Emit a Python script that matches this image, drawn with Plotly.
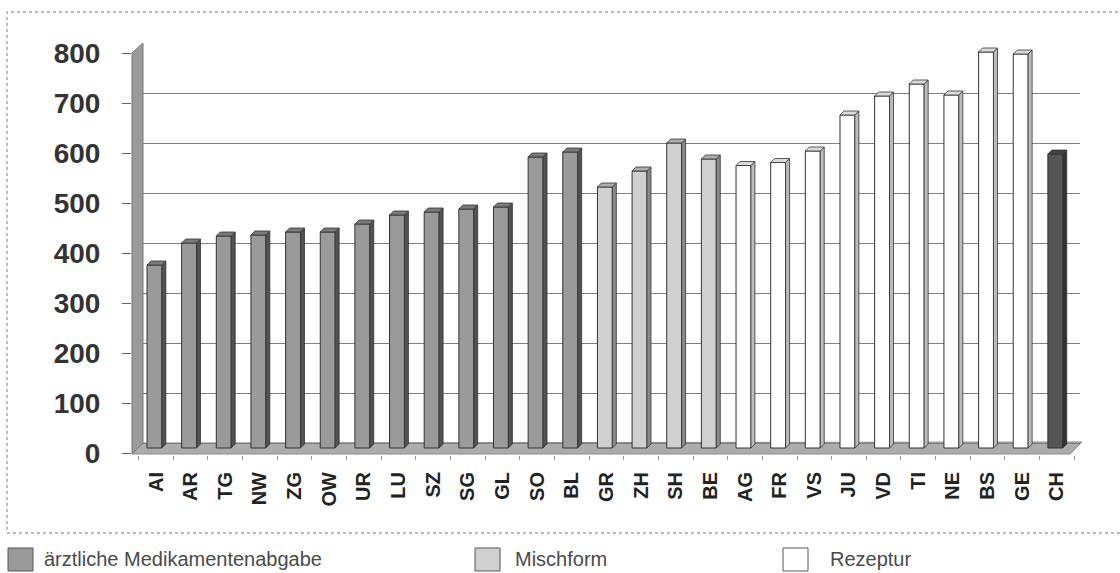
import plotly.graph_objects as go

# Costs per canton, grouped by dispensing system
sd_cantons = ["AI", "AR", "TG", "NW", "ZG", "OW", "UR", "LU", "SZ", "SG", "GL", "SO", "BL"]
sd_values = [366, 410, 424, 426, 432, 432, 448, 466, 472, 478, 482, 582, 592]
mix_cantons = ["GR", "ZH", "SH", "BE"]
mix_values = [522, 554, 610, 578]
rx_cantons = ["AG", "FR", "VS", "JU", "VD", "TI", "NE", "BS", "GE"]
rx_values = [565, 571, 594, 666, 704, 728, 706, 792, 788]
ch_cantons = ["CH"]
ch_values = [588]

y_ticks = [0, 100, 200, 300, 400, 500, 600, 700, 800]
legend_labels = ["ärztliche Medikamentenabgabe", "Mischform", "Rezeptur"]

# page geometry
W, H = 1120, 573
ML, MR, MT, MB = 132, 40, 43, 118
PW, PH = W - ML - MR, H - MT - MB

def px(x):
    return (x - ML) / PW

def py(y):
    return (H - MB - y) / PH

FONT = "Arial, Liberation Sans, sans-serif"

# pseudo-3D bar geometry (x in category units, depth rise in value units)
FRONT_OFF, FRONT_W = -0.26, 0.43
DX, DY = 0.115, 8

series = [
    (sd_cantons, sd_values, "#9a9a9a", "#525252", "#7a7a7a"),
    (mix_cantons, mix_values, "#d0d0d0", "#8a8a8a", "#adadad"),
    (rx_cantons, rx_values, "#ffffff", "#bbbbbb", "#dadada"),
    (ch_cantons, ch_values, "#555555", "#303030", "#444444"),
]

all_cantons = sd_cantons + mix_cantons + rx_cantons + ch_cantons

fig = go.Figure()
start = 0
for cantons, values, c_front, c_side, c_top in series:
    idx = list(range(start, start + len(cantons)))
    start += len(cantons)
    fig.add_trace(go.Bar(
        x=idx, y=values, width=FRONT_W, offset=FRONT_OFF,
        marker=dict(color=c_front, line=dict(color="#333333", width=1)),
        showlegend=False, hoverinfo="skip",
    ))
    sx, sy, tx, ty = [], [], [], []
    for i, v in zip(idx, values):
        r = i + FRONT_OFF + FRONT_W
        l = i + FRONT_OFF
        sx += [r, r + DX, r + DX, r, r, None]
        sy += [0, DY, v + DY, v, 0, None]
        tx += [l, r, r + DX, l + DX, l, None]
        ty += [v, v, v + DY, v + DY, v, None]
    fig.add_trace(go.Scatter(
        x=sx, y=sy, mode="lines", fill="toself", fillcolor=c_side,
        line=dict(color="#333333", width=0.8), showlegend=False, hoverinfo="skip",
    ))
    fig.add_trace(go.Scatter(
        x=tx, y=ty, mode="lines", fill="toself", fillcolor=c_top,
        line=dict(color="#333333", width=0.8), showlegend=False, hoverinfo="skip",
    ))

shapes = []
# floor of the 3D plot box
shapes.append(dict(
    type="path", xref="paper", yref="paper", layer="below",
    path=f"M {px(132)},{py(454)} L {px(143)},{py(443)} L {px(1082)},{py(442)} L {px(1070)},{py(454)} Z",
    fillcolor="#acacac", line=dict(color="#8a8a8a", width=1),
))
# left wall
shapes.append(dict(
    type="path", xref="paper", yref="paper", layer="above",
    path=f"M {px(132)},{py(53)} L {px(143)},{py(43)} L {px(143)},{py(443)} L {px(132)},{py(454)} Z",
    fillcolor="#9a9a9a", line=dict(color="#777777", width=1),
))
# outer frame
shapes.append(dict(
    type="rect", xref="paper", yref="paper",
    x0=px(7), x1=px(1130), y0=py(533), y1=py(12),
    line=dict(color="#7a7a7a", width=1, dash="dot"), fillcolor="rgba(0,0,0,0)",
))

# legend swatches and labels
legend_pos = [(8, 42), (475, 513), (783, 828)]
legend_fill = ["#9a9a9a", "#d0d0d0", "#ffffff"]
annotations = []
for (sx0, tx0), lab, col in zip(legend_pos, legend_labels, legend_fill):
    shapes.append(dict(
        type="rect", xref="paper", yref="paper",
        x0=px(sx0), x1=px(sx0 + 25), y0=py(571), y1=py(548),
        fillcolor=col, line=dict(color="#555555", width=1),
    ))
    annotations.append(dict(
        xref="paper", yref="paper", x=px(tx0), y=py(559),
        xanchor="left", yanchor="middle", showarrow=False, text=lab,
        font=dict(family=FONT, size=20, color="#4a4a4a"),
    ))

fig.update_layout(
    width=W, height=H,
    margin=dict(l=ML, r=MR, t=MT, b=MB),
    paper_bgcolor="white", plot_bgcolor="white",
    barmode="overlay", showlegend=False,
    shapes=shapes, annotations=annotations,
    xaxis=dict(
        range=[-0.693, 26.667], tickmode="array",
        tickvals=list(range(len(all_cantons))), ticktext=all_cantons,
        tickangle=-90, ticks="", showgrid=False, zeroline=False, showline=False,
        tickfont=dict(family=FONT, size=20, color="#222222", weight="bold"),
        ticklabelstandoff=12,
        minor=dict(ticks="outside", tick0=0.5, dtick=1, ticklen=4, tickcolor="#999999"),
    ),
    # axis carrying the bars (mid-depth of the box)
    yaxis=dict(range=[-14, 810], showgrid=False, zeroline=False, showticklabels=False,
               ticks="", showline=False),
    # front axis with the value labels
    yaxis2=dict(range=[-4, 820], overlaying="y", side="left", anchor="x",
                tickmode="array", tickvals=y_ticks, ticks="outside", ticklen=9,
                tickcolor="#666666", showgrid=False, zeroline=False, showline=False,
                tickfont=dict(family=FONT, size=28, color="#333333", weight="bold"),
                ticklabelstandoff=16),
    # back wall gridlines
    yaxis3=dict(range=[-24, 800.5], overlaying="y", side="left", anchor="x",
                tickmode="array", tickvals=y_ticks, showticklabels=False, ticks="",
                showgrid=True, gridcolor="#808080", gridwidth=1.3,
                zeroline=False, showline=False),
)

# hidden companions so the overlay axes are drawn
fig.add_trace(go.Scatter(x=[0], y=[sd_values[0]], yaxis="y2", opacity=0,
                         showlegend=False, hoverinfo="skip", mode="markers"))
fig.add_trace(go.Scatter(x=[0], y=[sd_values[0]], yaxis="y3", opacity=0,
                         showlegend=False, hoverinfo="skip", mode="markers"))

fig.write_html("out.html")
